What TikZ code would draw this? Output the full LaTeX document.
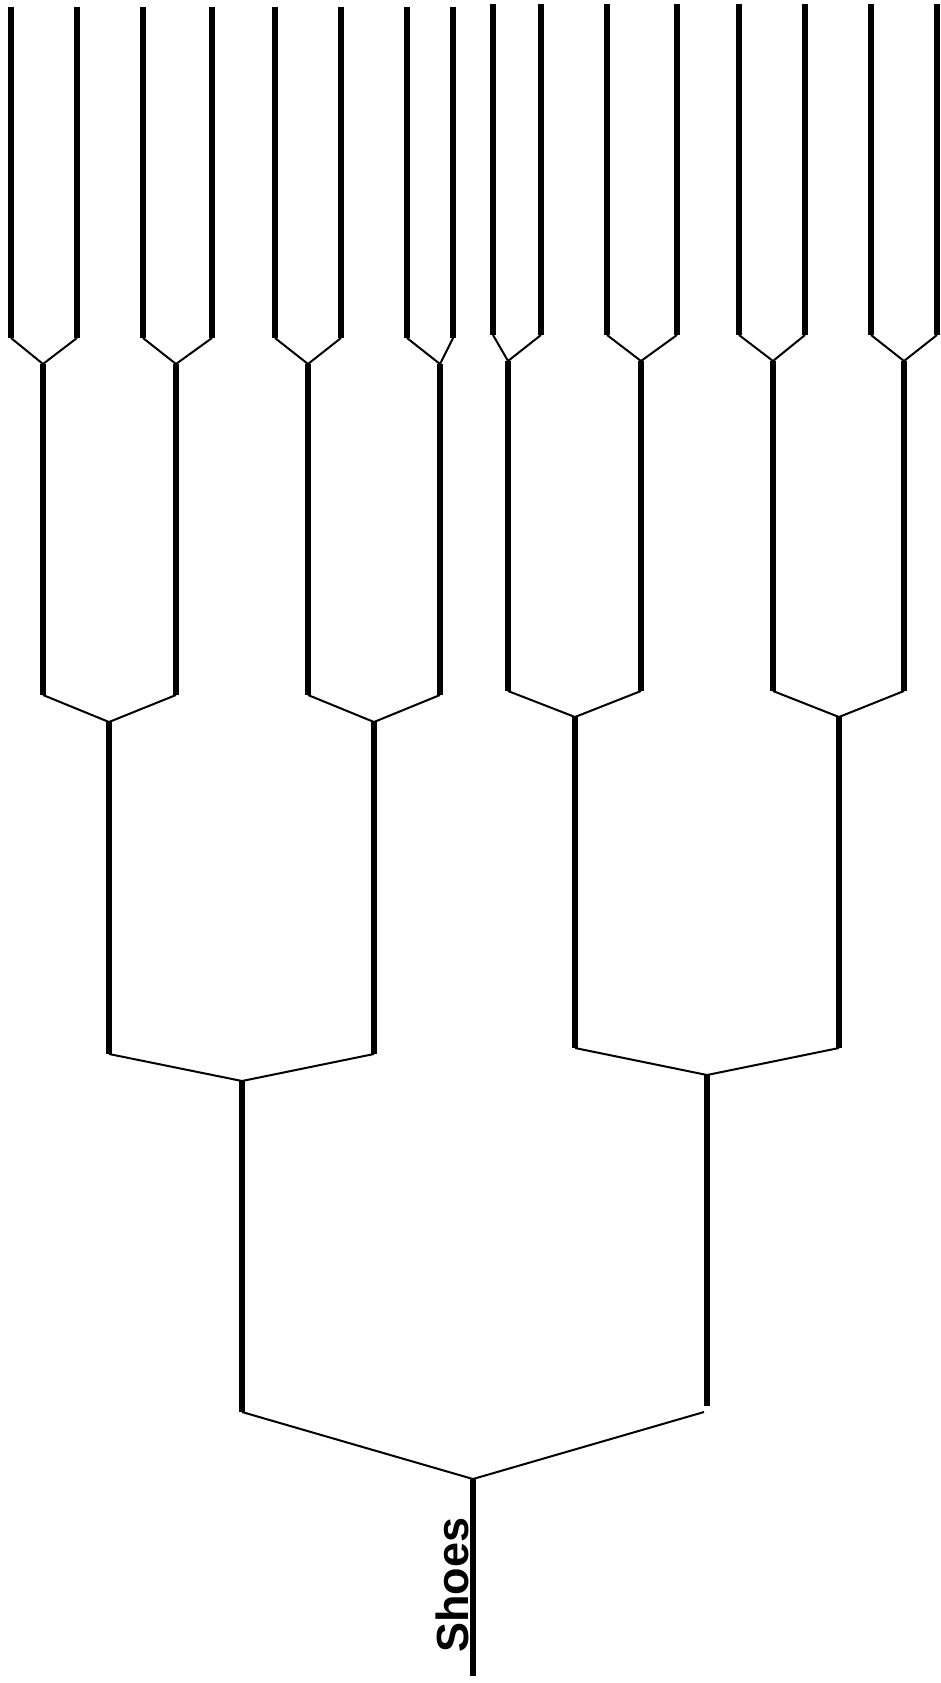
\documentclass[tikz,border=0pt]{standalone}
\usepackage{fontspec}
\setmainfont{Liberation Sans}
\begin{document}
\begin{tikzpicture}[x=1pt,y=-1pt,
  stem/.style={line width=6.3pt},
  link/.style={line width=2pt, line join=miter},
  label/.style={rotate=90, anchor=base, inner sep=0pt, font=\bfseries\fontsize{45}{49}\selectfont}]
\useasboundingbox (0,0) rectangle (941,1683);
% leaves: index / x / top / bottom
\foreach \i/\x/\t/\b in {1/11/7/338, 2/77/7/338, 3/143/7/338, 4/212/7/338,
                          5/275/7/338, 6/341/7/338, 7/407/7/338, 8/453/7/338,
                          9/493/4/335, 10/541/4/335, 11/607/4/335, 12/677/4/335,
                          13/739/4/335, 14/805/4/335, 15/871/4/335, 16/937/4/335}{
  \coordinate (t\i) at (\x,\t);
  \coordinate (b\i) at (\x,\b);
  \draw[stem] (t\i) -- (b\i);
}
% level 1 junctions: index / x / y / stem bottom / left leaf / right leaf
\foreach \j/\x/\y/\e/\l/\r in {1/43/364/695/1/2, 2/176/364/695/3/4, 3/308/364/695/5/6, 4/440/364/695/7/8,
                                5/508/361/691/9/10, 6/641/361/691/11/12, 7/773/361/691/13/14, 8/904/361/691/15/16}{
  \coordinate (j\j) at (\x,\y);
  \coordinate (je\j) at (\x,\e);
  \draw[link] (b\l) -- (j\j) -- (b\r);
  \draw[stem] (j\j) -- (je\j);
}
% level 2 junctions
\foreach \k/\x/\y/\e/\l/\r in {1/109/722/1054/1/2, 2/374/722/1054/3/4,
                                3/575/717/1048/5/6, 4/839/717/1048/7/8}{
  \coordinate (k\k) at (\x,\y);
  \coordinate (ke\k) at (\x,\e);
  \draw[link] (je\l) -- (k\k) -- (je\r);
  \draw[stem] (k\k) -- (ke\k);
}
% level 3 junctions
\coordinate (m1) at (242,1081);
\coordinate (me1) at (242,1412);
\coordinate (m2) at (707,1075);
\coordinate (me2) at (707,1406);
\coordinate (mf2) at (704,1412);
\draw[link] (ke1) -- (m1) -- (ke2);
\draw[link] (ke3) -- (m2) -- (ke4);
\draw[stem] (m1) -- (me1);
\draw[stem] (m2) -- (me2);
% root
\coordinate (r) at (473,1479);
\coordinate (re) at (473,1676);
\draw[link] (me1) -- (r) -- (mf2);
\draw[stem] (r) -- (re);
\node[label] (shoes) at (468,1585) {Shoes};
\end{tikzpicture}
\end{document}
